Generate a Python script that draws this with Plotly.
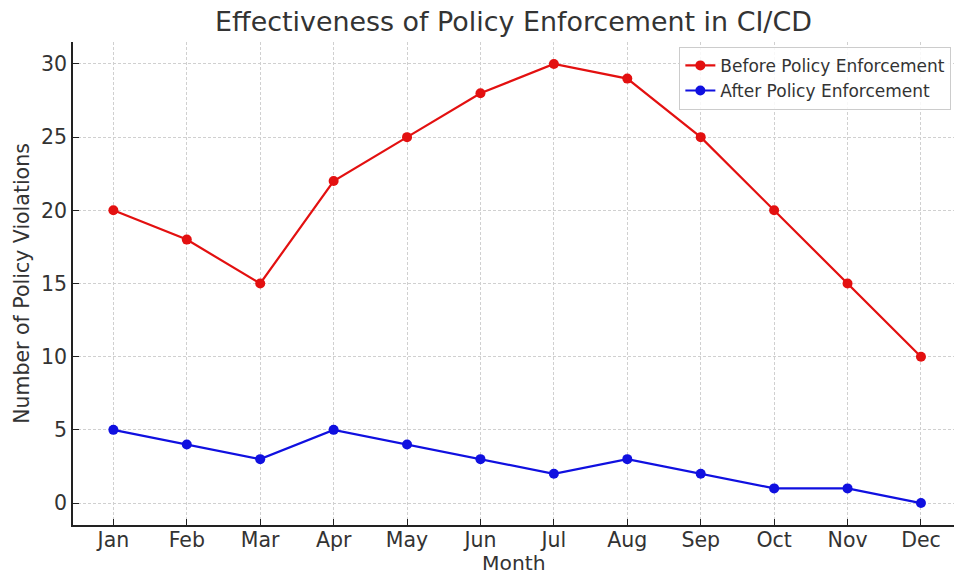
import plotly.graph_objects as go

months = ["Jan", "Feb", "Mar", "Apr", "May", "Jun", "Jul", "Aug", "Sep", "Oct", "Nov", "Dec"]
before = [20, 18, 15, 22, 25, 28, 30, 29, 25, 20, 15, 10]
after = [5, 4, 3, 5, 4, 3, 2, 3, 2, 1, 1, 0]
y_ticks = [0, 5, 10, 15, 20, 25, 30]

FONT = "DejaVu Sans"
TXT = "#333333"
RED = "#e31010"
BLUE = "#1010e0"

fig = go.Figure()
fig.add_trace(go.Scatter(
    x=list(range(len(months))), y=before, mode="lines+markers",
    name="Before Policy Enforcement",
    line=dict(color=RED, width=2.2),
    marker=dict(color=RED, size=10),
))
fig.add_trace(go.Scatter(
    x=list(range(len(months))), y=after, mode="lines+markers",
    name="After Policy Enforcement",
    line=dict(color=BLUE, width=2.2),
    marker=dict(color=BLUE, size=10),
))

fig.update_layout(
    width=954, height=575,
    margin=dict(l=73, r=0, t=42, b=50),
    paper_bgcolor="white", plot_bgcolor="white",
    font=dict(family=FONT, color=TXT),
    title=dict(text="Effectiveness of Policy Enforcement in CI/CD",
               x=0.5, xanchor="center", xref="paper",
               y=1 - 22 / 575, yref="container", yanchor="middle",
               font=dict(size=26.9, color=TXT)),
    showlegend=True,
    legend=dict(x=0.997, xanchor="right", y=0.99, yanchor="top",
                bgcolor="rgba(255,255,255,0.85)", bordercolor="#cccccc", borderwidth=1,
                font=dict(size=17, color=TXT), tracegroupgap=0),
    xaxis=dict(
        range=[-0.55, 11.45],
        tickmode="array", tickvals=list(range(len(months))), ticktext=months,
        tickfont=dict(size=20.5, color=TXT),
        ticks="inside", ticklen=6, tickcolor="#222", tickwidth=1.2,
        ticklabelstandoff=-4,
        showline=True, linecolor="#222", linewidth=1.5, mirror=False,
        showgrid=True, gridcolor="#d0d0d0", griddash="3px,2px", gridwidth=1,
        zeroline=False,
    ),
    yaxis=dict(
        range=[-1.5, 31.5],
        tickmode="array", tickvals=y_ticks,
        tickfont=dict(size=20.5, color=TXT),
        ticks="inside", ticklen=6, tickcolor="#222", tickwidth=1.2,
        showline=True, linecolor="#222", linewidth=1.5, mirror=False,
        showgrid=True, gridcolor="#d0d0d0", griddash="3px,2px", gridwidth=1,
        zeroline=False,
        title=dict(text="Number of Policy Violations", font=dict(size=20.5, color=TXT), standoff=6),
    ),
    annotations=[dict(text="Month", xref="paper", yref="paper", x=0.5,
                      y=-(563 - 525) / 483, xanchor="center", yanchor="middle",
                      showarrow=False, font=dict(size=20.3, color=TXT))],
)

fig.write_html("out.html")
